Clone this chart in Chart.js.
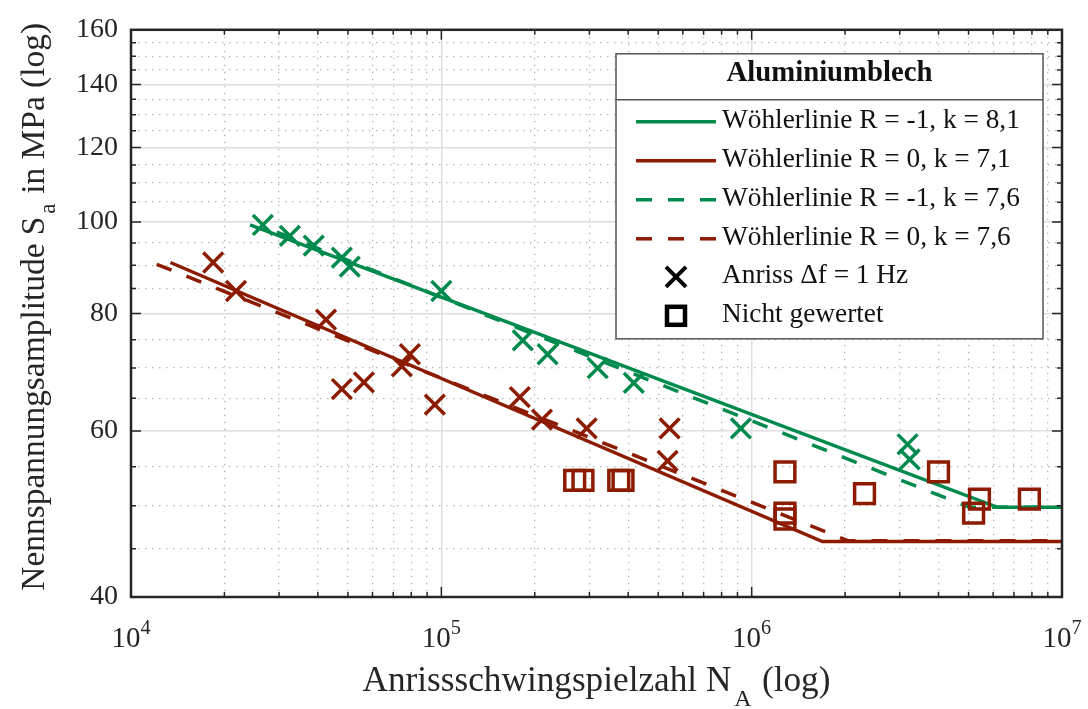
<!DOCTYPE html>
<html>
<head>
<meta charset="utf-8">
<script src="https://cdn.jsdelivr.net/npm/chart.js@4.4.1/dist/chart.umd.min.js"></script>
<style>
  html, body { margin: 0; padding: 0; background: #fff; }
</style>
</head>
<body>
<canvas id="myChart" width="1088" height="709"></canvas>
<script>
// Versuchspunkte Anriss (Delta f = 1 Hz), R = -1 (gruen)
const anrissGruenN = [2.66e4, 3.25e4, 3.88e4, 4.78e4, 5.07e4, 1.0e5, 1.83e5, 2.20e5, 3.19e5, 4.17e5, 9.23e5, 3.18e6, 3.23e6];
const anrissGruenS = [99.3, 96.7, 94.4, 91.7, 89.7, 84.5, 74.9, 72.4, 70.0, 67.5, 60.4, 58.1, 56.0];
// Versuchspunkte Anriss, R = 0 (rot)
const anrissRotN = [1.84e4, 2.18e4, 4.25e4, 4.78e4, 5.63e4, 7.46e4, 7.92e4, 9.53e4, 1.79e5, 2.11e5, 2.94e5, 5.44e5, 5.36e5];
const anrissRotS = [90.6, 84.5, 78.8, 66.5, 67.6, 70.3, 72.4, 64.0, 65.2, 61.7, 60.4, 60.4, 55.8];
// nicht gewertet
const nichtGewertetN = [2.69e5, 2.86e5, 3.73e5, 3.85e5, 1.28e6, 1.28e6, 1.28e6, 2.31e6, 4.00e6, 5.42e6, 5.19e6, 7.85e6];
const nichtGewertetS = [53.2, 53.2, 53.2, 53.2, 54.3, 49.1, 48.4, 51.5, 54.3, 50.8, 49.1, 50.8];

// Woehlerlinien (Stuetzpunkte: Anfang, Knick, Ende)
const wl1N = [2.42e4, 6.2e6, 1e7];   const wl1S = [99.3, 49.8, 49.8];   // R = -1, k = 8,1
const wl2N = [1.34e4, 1.69e6, 1e7];  const wl2S = [90.6, 45.8, 45.8];   // R = 0, k = 7,1
const wl3N = [2.95e4, 5.03e6, 1e7];  const wl3S = [97.6, 49.8, 49.8];   // R = -1, k = 7,6
const wl4N = [1.21e4, 2.04e6, 1e7];  const wl4S = [90.2, 45.9, 45.9];   // R = 0, k = 7,6

const legendTitle = 'Aluminiumblech';
const legendLabels = [
  'Wöhlerlinie R = -1, k = 8,1',
  'Wöhlerlinie R = 0, k = 7,1',
  'Wöhlerlinie R = -1, k = 7,6',
  'Wöhlerlinie R = 0, k = 7,6',
  'Anriss \u0394f = 1 Hz',
  'Nicht gewertet'
];

const xTicks = [1e4, 2e4, 3e4, 4e4, 5e4, 6e4, 7e4, 8e4, 9e4,
                1e5, 2e5, 3e5, 4e5, 5e5, 6e5, 7e5, 8e5, 9e5,
                1e6, 2e6, 3e6, 4e6, 5e6, 6e6, 7e6, 8e6, 9e6, 1e7];
const xLabelExp = [4, 5, 6, 7];
const yTicks = [40, 45, 50, 55, 60, 65, 70, 75, 80, 85, 90, 95, 100, 105, 110, 115, 120, 125, 130, 135, 140, 145, 150, 155, 160];

const GREEN = '#008a4e';
const RED = '#8c1b00';
const FONT = '"Liberation Serif", "Times New Roman", serif';
const TXT = '#262626';

function pts(n, s) { return n.map((v, i) => ({ x: v, y: s[i] })); }
function isMajorX(v) { return Math.abs(Math.log10(v) - Math.round(Math.log10(v))) < 1e-9; }
function isMajorY(v) { return v % 20 === 0; }

function lineSet(label, n, s, color, dash) {
  return {
    label: label, data: pts(n, s), showLine: true, borderColor: color, backgroundColor: color,
    borderWidth: 3.5, borderDash: dash, pointRadius: 0, fill: false, tension: 0, order: 2
  };
}

// text with sub/superscripts
function drawParts(ctx, parts, size, x, y, align) {
  let w = 0;
  parts.forEach(p => {
    ctx.font = (p.bold ? 'bold ' : '') + (size * (p.s || 1)) + 'px ' + FONT;
    p.w = ctx.measureText(p.t).width;
    w += p.w + (p.gap || 0) * size;
  });
  let cx = align === 'center' ? x - w / 2 : x;
  parts.forEach(p => {
    ctx.font = (p.bold ? 'bold ' : '') + (size * (p.s || 1)) + 'px ' + FONT;
    cx += (p.gap || 0) * size;
    ctx.fillText(p.t, cx, y + (p.dy || 0) * size);
    cx += p.w;
  });
  return w;
}
function fitSize(ctx, parts, target) {
  const w = drawParts({ set font(f) { ctx.font = f; }, measureText: t => ctx.measureText(t), fillText() {} }, parts, 100, 0, 0, 'left');
  return 100 * target / w;
}

const axesPlugin = {
  id: 'axesPlugin',
  afterDatasetsDraw(chart) {
    const { ctx, chartArea: a, scales: { x, y } } = chart;
    ctx.save();
    ctx.strokeStyle = TXT;
    ctx.lineWidth = 1.5;
    ctx.beginPath();
    xTicks.forEach(v => {
      const px = x.getPixelForValue(v);
      const len = isMajorX(v) ? 10 : 5;
      ctx.moveTo(px, a.bottom); ctx.lineTo(px, a.bottom - len);
      ctx.moveTo(px, a.top); ctx.lineTo(px, a.top + len);
    });
    yTicks.forEach(v => {
      const py = y.getPixelForValue(v);
      const len = isMajorY(v) ? 10 : 5;
      ctx.moveTo(a.left, py); ctx.lineTo(a.left + len, py);
      ctx.moveTo(a.right, py); ctx.lineTo(a.right - len, py);
    });
    ctx.stroke();
    ctx.lineWidth = 2.5;
    ctx.strokeRect(a.left, a.top, a.right - a.left, a.bottom - a.top);

    // x tick labels 10^n
    ctx.fillStyle = TXT;
    ctx.textBaseline = 'alphabetic';
    xLabelExp.forEach(e => {
      const px = x.getPixelForValue(Math.pow(10, e));
      drawParts(ctx, [{ t: '10' }, { t: String(e), s: 0.7, dy: -0.45 }], 29, px, a.bottom + 50, 'center');
    });

    // axis titles
    const xt = [{ t: 'Anrissschwingspielzahl N' }, { t: 'A', s: 0.68, dy: 0.42, gap: 0.08 }, { t: ' (log)', gap: 0.05 }];
    const xs = fitSize(ctx, xt, 468);
    drawParts(ctx, xt, xs, (a.left + a.right) / 2, a.bottom + 94, 'center');

    const yt = [{ t: 'Nennspannungsamplitude S' }, { t: 'a', s: 0.68, dy: 0.33, gap: 0.08 }, { t: ' in MPa (log)', gap: 0.05 }];
    const ys = fitSize(ctx, yt, 568);
    ctx.save();
    ctx.translate(44, a.top + 277);
    ctx.rotate(-Math.PI / 2);
    drawParts(ctx, yt, ys, 0, 0, 'center');
    ctx.restore();
    ctx.restore();
  },
  afterDraw(chart) {
    const { ctx, chartArea: a } = chart;
    const L = a.right - 446, T = a.top + 24, W = 427, H = 285;
    ctx.save();
    ctx.fillStyle = '#fff';
    ctx.fillRect(L, T, W, H);
    ctx.strokeStyle = '#555';
    ctx.lineWidth = 1.5;
    ctx.strokeRect(L, T, W, H);
    ctx.beginPath(); ctx.moveTo(L, T + 46); ctx.lineTo(L + W, T + 46); ctx.stroke();

    ctx.fillStyle = '#111';
    ctx.textBaseline = 'alphabetic';
    const tp = [{ t: legendTitle, bold: true }];
    drawParts(ctx, tp, fitSize(ctx, tp, 206), L + W / 2, T + 27, 'center');

    const size = fitSize(ctx, [{ t: legendLabels[0] }], 298);
    const rows = [68, 107, 146, 185, 223, 262];
    const ds = chart.data.datasets;
    rows.forEach((r, i) => {
      const yy = T + r;
      if (i < 4) {
        ctx.strokeStyle = ds[i].borderColor;
        ctx.lineWidth = 3.5;
        ctx.setLineDash(ds[i].borderDash || []);
        ctx.beginPath(); ctx.moveTo(L + 20, yy); ctx.lineTo(L + 100, yy); ctx.stroke();
        ctx.setLineDash([]);
      } else if (i === 4) {
        ctx.strokeStyle = '#000'; ctx.lineWidth = 4;
        ctx.beginPath();
        ctx.moveTo(L + 50, yy - 10); ctx.lineTo(L + 70, yy + 10);
        ctx.moveTo(L + 70, yy - 10); ctx.lineTo(L + 50, yy + 10);
        ctx.stroke();
      } else {
        ctx.strokeStyle = '#000'; ctx.lineWidth = 4.5;
        ctx.strokeRect(L + 51, yy - 9, 18, 18);
      }
      ctx.fillStyle = '#111';
      drawParts(ctx, [{ t: legendLabels[i] }], size, L + 106, yy + 6, 'left');
    });
    ctx.restore();
  }
};

function gridOpts(isMajor) {
  return {
    drawTicks: false,
    color: c => (c.tick && isMajor(c.tick.value)) ? '#dedede' : '#b8b8b8',
    lineWidth: c => (c.tick && isMajor(c.tick.value)) ? 1.5 : 1.3
  };
}
function borderOpts(isMajor) {
  // in Chart.js v4 the grid line dash is read from border.dash
  return {
    display: false,
    dash: c => (c.tick && isMajor(c.tick.value)) ? [] : [1.5, 5.5]
  };
}

var ctx = document.getElementById('myChart').getContext('2d');
var chart = new Chart(ctx, {
  type: 'scatter',
  data: {
    datasets: [
      lineSet(legendLabels[0], wl1N, wl1S, GREEN, []),
      lineSet(legendLabels[1], wl2N, wl2S, RED, []),
      lineSet(legendLabels[2], wl3N, wl3S, GREEN, [16, 16]),
      lineSet(legendLabels[3], wl4N, wl4S, RED, [16, 16]),
      {
        label: legendLabels[4] + ' (R = -1)', data: pts(anrissGruenN, anrissGruenS),
        pointStyle: 'crossRot', pointRadius: 14, borderWidth: 3.5, borderColor: GREEN, backgroundColor: GREEN, order: 1
      },
      {
        label: legendLabels[4] + ' (R = 0)', data: pts(anrissRotN, anrissRotS),
        pointStyle: 'crossRot', pointRadius: 14, borderWidth: 3.5, borderColor: RED, backgroundColor: RED, order: 1
      },
      {
        label: legendLabels[5], data: pts(nichtGewertetN, nichtGewertetS),
        pointStyle: 'rect', pointRadius: 14, borderWidth: 3.5, borderColor: RED, backgroundColor: 'rgba(0,0,0,0)', order: 1
      }
    ]
  },
  options: {
    responsive: false,
    animation: false,
    layout: { padding: { top: 22, right: 26, left: 0, bottom: 0 } },
    plugins: { legend: { display: false }, tooltip: { enabled: false } },
    scales: {
      x: {
        type: 'logarithmic', min: 1e4, max: 1e7,
        afterBuildTicks: s => { s.ticks = xTicks.map(v => ({ value: v })); },
        afterFit: s => { s.height = 112; },
        ticks: { display: false },
        border: borderOpts(isMajorX),
        grid: gridOpts(isMajorX)
      },
      y: {
        type: 'logarithmic', min: 40, max: 160,
        afterBuildTicks: s => { s.ticks = yTicks.map(v => ({ value: v })); },
        afterFit: s => { s.width = 131; },
        ticks: {
          autoSkip: false, padding: 13, color: TXT,
          font: { family: FONT, size: 28 },
          callback: v => isMajorY(v) ? String(v) : ''
        },
        border: borderOpts(isMajorY),
        grid: gridOpts(isMajorY)
      }
    }
  },
  plugins: [axesPlugin]
});
</script>
</body>
</html>
